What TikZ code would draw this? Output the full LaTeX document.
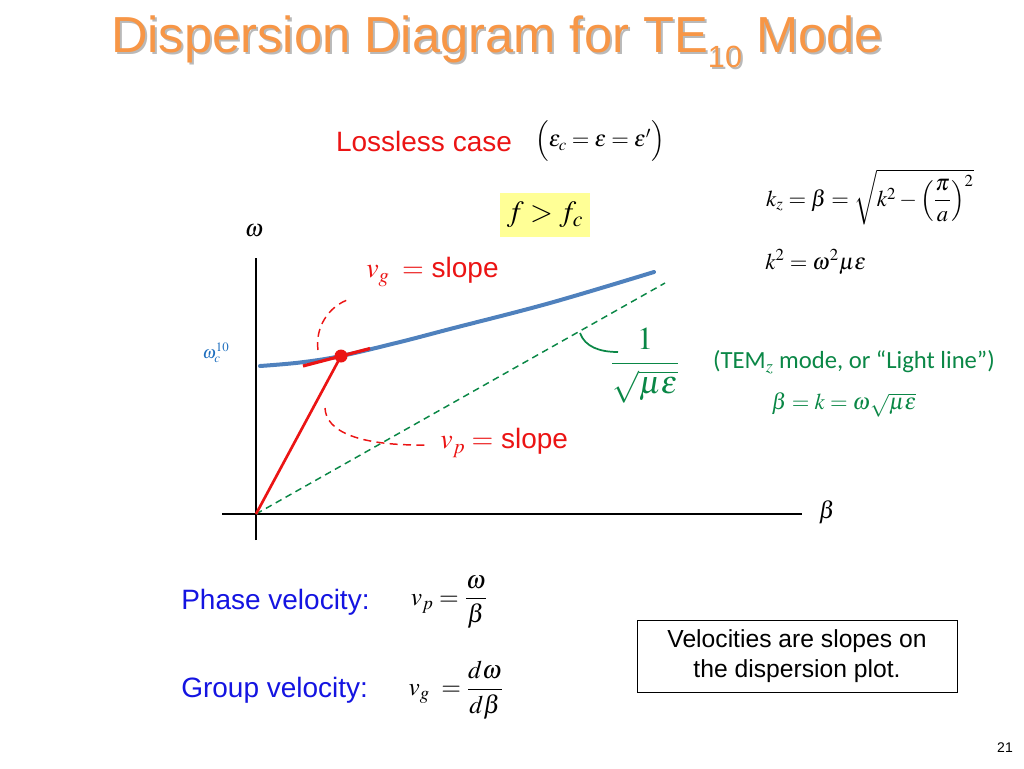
\documentclass[tikz,border=0pt]{standalone}
\usepackage{amsmath}
\usepackage{mathptmx}
\usepackage[no-math]{fontspec}
\setmainfont{Liberation Sans}
\newfontfamily\calib{Carlito}
\usepackage{xcolor}
\usepackage{tikz}
\usetikzlibrary{positioning}
\definecolor{titleorange}{RGB}{247,150,70}
\definecolor{shadowgray}{RGB}{185,185,185}
\definecolor{curveblue}{RGB}{79,129,189}
\definecolor{cutblue}{RGB}{30,110,190}
\definecolor{textblue}{RGB}{20,20,225}
\definecolor{slopered}{RGB}{235,20,20}
\definecolor{lightgreen}{RGB}{10,135,70}
\definecolor{marker}{RGB}{255,255,150}
\newcommand{\fs}[1]{\fontsize{#1}{1.2\dimexpr#1pt\relax}\selectfont}
\begin{document}
\begin{tikzpicture}[x=0.75pt,y=-0.75pt]
		\tikzstyle{every node}+=[inner sep=0pt]
		\tikzstyle{axis}=[black,line width=1.6pt]
		\tikzstyle{pointer}=[slopered,line width=1.1pt,dashed,dash pattern=on 6pt off 4pt]
		\tikzstyle{lightdash}=[lightgreen,line width=1.1pt,dash pattern=on 5pt off 3.5pt]
		\useasboundingbox (0,0) rectangle (1024,768);
		% title with its shadow
		\node [shadowgray,font=\fs{38}] at (499,44) {Dispersion Diagram for TE\raisebox{-0.3em}{\fs{23}10} Mode};
		\node (title) [titleorange,font=\fs{38}] at (497,42) {Dispersion Diagram for TE\raisebox{-0.3em}{\fs{23}10} Mode};
		\node (loss) [slopered,font=\fs{21}] at (424,141) {Lossless case};
		\node (eps) [font=\fs{17}] at (600,141) {$\Bigl(\varepsilon_c=\varepsilon=\varepsilon'\Bigr)$};
		\node (fcond) [fill=marker,minimum width=67.5pt,minimum height=33pt,font=\fs{22}] at (545,215) {$f>f_c$};
		\node (kzeq) [font=\fs{17}] at (870,197) {$k_z=\beta=\sqrt{k^2-\left(\dfrac{\pi}{a}\right)^{2}}$};
		\node (keq) [anchor=west,font=\fs{17}] at (765,262) {$k^2=\omega^2\mu\varepsilon$};
		% axes
		\coordinate (O) at (256,514);
		\coordinate (ytop) at (256,258);
		\coordinate (ybot) at (256,540);
		\coordinate (xleft) at (222,514);
		\coordinate (xright) at (802,514);
		\draw [axis] (ybot) -- (ytop);
		\draw [axis] (xleft) -- (xright);
		\node (wlab) [font=\fs{18}] at (254,231) {$\omega$};
		\node (blab) [font=\fs{18}] at (827,512) {$\beta$};
		\node (wc) [cutblue,font=\fs{13}] at (216,353) {$\omega_c^{10}$};
		% light line
		\coordinate (G) at (665,283);
		\draw [lightdash] (O) -- (G);
		% dispersion curve
		\coordinate (P) at (341,356);
		\draw [curveblue,line width=3pt,line cap=round] plot[smooth,tension=0.6] coordinates {(260,366) (300,362.5) (P) (400,342) (450,329) (550,303) (654,272)};
		% phase and group slopes
		\coordinate (T1) at (303,366);
		\coordinate (T2) at (370,348.5);
		\draw [slopered,line width=2pt] (O) -- (P);
		\draw [slopered,line width=2.4pt] (T1) -- (T2);
		\fill [slopered] (P) circle (6.5);
		\node (vglab) [slopered,anchor=west,font=\fs{21}] at (366,272) {$v_g\;=$ slope};
		\node (vplab) [slopered,anchor=west,font=\fs{21}] at (440,443) {$v_p=$ slope};
		\draw [pointer] (318,350) .. controls (315,328) and (328,306) .. (350,299);
		\draw [pointer] (325,408) .. controls (326,432) and (360,446) .. (428,445);
		% light line slope
		\node (inv) [lightgreen,font=\fs{24}] at (645,366) {$\dfrac{1}{\sqrt{\mu\varepsilon}}$};
		\draw [lightgreen,line width=1.3pt] (580,333) .. controls (585,347) and (600,352) .. (618,352);
		\node (tem) [lightgreen,font=\calib\fs{18.5}] at (854,362) {(TEM$_{z}$ mode, or “Light line”)};
		\node (beq) [lightgreen,font=\fs{17}] at (844,405) {$\beta=k=\omega\sqrt{\mu\varepsilon}$};
		% velocities
		\node (phase) [textblue,anchor=west,font=\fs{21}] at (181,602) {Phase velocity:};
		\node (vpeq) [font=\fs{19}] at (449,602) {$v_p=\dfrac{\omega}{\beta}$};
		\node (group) [textblue,anchor=west,font=\fs{21}] at (181,690) {Group velocity:};
		\node (vgeq) [font=\fs{19}] at (456,690) {$v_g\;=\dfrac{d\omega}{d\beta}$};
		\node (note) [draw,line width=0.6pt,minimum width=240pt,minimum height=54pt,align=center,font=\fs{18.5}] at (797,656) {Velocities are slopes on\\the dispersion plot.};
		\node (page) [font=\fs{10.5}] at (1005,748) {21};
		\end{tikzpicture}
\end{document}
